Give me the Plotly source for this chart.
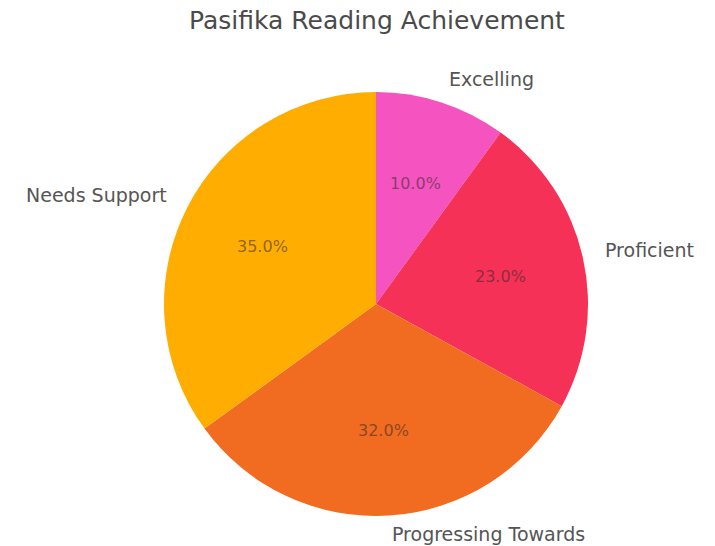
import math
import plotly.graph_objects as go

# Reading achievement bands for Pasifika students (percent of students)
categories = ["Excelling", "Proficient", "Progressing Towards", "Needs Support"]
shares = [10.0, 23.0, 32.0, 35.0]
slice_colors = ["#f553bf", "#f53157", "#f16b21", "#ffad00"]

W, H = 715, 546
cx_px, cy_px, r_px = 376, 304, 212   # pie centre and radius in pixels

fig = go.Figure(
    go.Pie(
        labels=categories,
        values=shares,
        sort=False,
        direction="clockwise",
        rotation=0,
        marker=dict(colors=slice_colors, line=dict(width=0)),
        textinfo="none",
        hoverinfo="label+percent",
        showlegend=False,
        domain=dict(
            x=[(cx_px - r_px) / W, (cx_px + r_px) / W],
            y=[(H - cy_px - r_px) / H, (H - cy_px + r_px) / H],
        ),
    )
)

# Place category labels just outside the rim and percentages inside each slice,
# using each slice's mid-angle (clockwise from 12 o'clock).
total = sum(shares)
annotations = []
cum = 0.0
for name, val in zip(categories, shares):
    mid = (cum + val / 2) / total * 2 * math.pi
    cum += val
    sx, sy = math.sin(mid), math.cos(mid)
    # outer label
    lx = cx_px + 1.1 * r_px * sx
    ly = cy_px - 1.1 * r_px * sy
    annotations.append(dict(
        x=lx / W, y=1 - ly / H, xref="paper", yref="paper",
        text=name, showarrow=False, yshift=3, borderpad=0,
        xanchor="left" if sx > 0 else "right", yanchor="middle",
        font=dict(family="DejaVu Sans", size=19, color="#555555"),
    ))
    # percentage label
    px = cx_px + 0.6 * r_px * sx
    py = cy_px - 0.6 * r_px * sy
    annotations.append(dict(
        x=px / W, y=1 - py / H, xref="paper", yref="paper",
        text=f"{val / total * 100:.1f}%", showarrow=False,
        xanchor="center", yanchor="middle",
        font=dict(family="DejaVu Sans", size=16, color="rgba(45,40,40,0.55)"),
    ))

fig.update_layout(
    width=W, height=H,
    margin=dict(l=0, r=0, t=0, b=0),
    paper_bgcolor="white",
    plot_bgcolor="white",
    title=dict(
        text="Pasifika Reading Achievement",
        x=377 / W, xanchor="center",
        y=1 - 20 / H, yanchor="middle", yref="container",
        font=dict(family="DejaVu Sans", size=25, color="#4a4a4a"),
    ),
    annotations=annotations,
)

fig.write_html("out.html")
